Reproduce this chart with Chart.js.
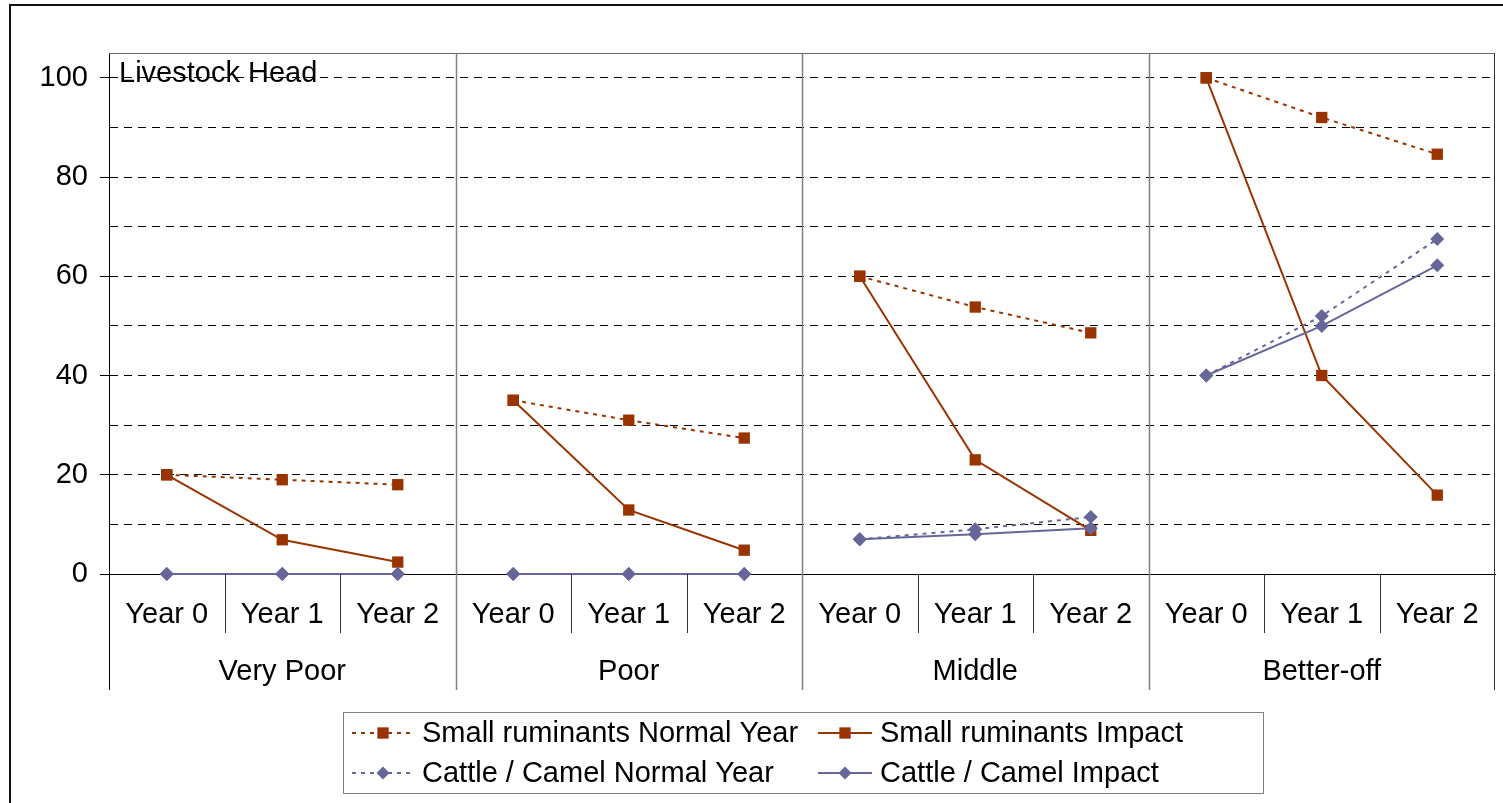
<!DOCTYPE html>
<html>
<head>
<meta charset="utf-8">
<title>Livestock Head</title>
<script src="https://cdn.jsdelivr.net/npm/chart.js@4"></script>
<style>
  html, body { margin: 0; padding: 0; background: #fff; }
  #wrap { width: 1503px; height: 803px; position: relative; }
</style>
</head>
<body>
<div id="wrap"><canvas id="chart" width="1503" height="803"></canvas></div>
<script>
// Wealth groups, each shown over three years
const groups = ['Very Poor', 'Poor', 'Middle', 'Better-off'];
const years = ['Year 0', 'Year 1', 'Year 2'];
const categories = groups.flatMap(() => years);

// Livestock head per group and year
const smallRuminantsNormal = [20, 19, 18, 35, 31, 27.4, 60, 53.8, 48.6, 100, 92, 84.6];
const smallRuminantsImpact = [20, 6.9, 2.4, 35, 12.9, 4.8, 60, 23, 8.8, 100, 40, 15.9];
const cattleCamelNormal = [0, 0, 0, 0, 0, 0, 7, 9, 11.5, 40, 52, 67.5];
const cattleCamelImpact = [0, 0, 0, 0, 0, 0, 7, 8, 9.2, 40, 50, 62.2];

// Axis range and labelled ticks
const yMin = 0;
const yMax = 105;
const yStep = 10;
const yLabelStep = 20;

const FONT = "'Liberation Sans', Arial, sans-serif";
const FS = 29;
const BROWN = '#993300';
const PURPLE = '#666699';

// no line between the last year of one group and the first year of the next
const groupBreak = { borderColor: ctx => (ctx.p0DataIndex % 3 === 2 ? 'rgba(0,0,0,0)' : undefined) };

function series(label, data, color, dotted, style, radius, order) {
  return {
    label, data, order,
    borderColor: color,
    backgroundColor: color,
    pointBackgroundColor: color,
    pointBorderColor: color,
    pointBorderWidth: 0,
    borderWidth: 2,
    borderDash: dotted ? [4, 5] : [],
    pointStyle: style,
    pointRadius: radius,
    pointHoverRadius: radius,
    tension: 0,
    clip: false,
    segment: groupBreak
  };
}

const datasets = [
  series('Small ruminants Normal Year', smallRuminantsNormal, BROWN, true, 'rect', 8, 3),
  series('Small ruminants Impact', smallRuminantsImpact, BROWN, false, 'rect', 8, 2),
  series('Cattle / Camel Normal Year', cattleCamelNormal, PURPLE, true, 'rectRot', 7, 1),
  series('Cattle / Camel Impact', cattleCamelImpact, PURPLE, false, 'rectRot', 7, 0)
];

function drawMarker(ctx, style, x, y, r, color) {
  ctx.save();
  ctx.fillStyle = color;
  ctx.beginPath();
  if (style === 'rect') {
    const s = Math.SQRT1_2 * r;
    ctx.rect(x - s, y - s, 2 * s, 2 * s);
  } else {
    ctx.moveTo(x, y - r);
    ctx.lineTo(x + r, y);
    ctx.lineTo(x, y + r);
    ctx.lineTo(x - r, y);
    ctx.closePath();
  }
  ctx.fill();
  ctx.restore();
}

function line(ctx, x1, y1, x2, y2, color, width, dash) {
  ctx.save();
  ctx.strokeStyle = color;
  ctx.lineWidth = width;
  ctx.setLineDash(dash || []);
  ctx.beginPath();
  ctx.moveTo(x1, y1);
  ctx.lineTo(x2, y2);
  ctx.stroke();
  ctx.restore();
}

// frame, category dividers, group labels, caption and legend
const decorations = {
  id: 'decorations',
  beforeDatasetsDraw(chart) {
    const { ctx, chartArea: a } = chart;
    const cw = (a.right - a.left) / categories.length;
    for (let k = 3; k < categories.length; k += 3) {
      const x = Math.round(a.left + k * cw) + 0.5;
      line(ctx, x, a.top, x, 690, '#808080', 1.5);
    }
  },
  afterDraw(chart) {
    const { ctx, chartArea: a } = chart;
    const xs = chart.scales.x;
    const cw = (a.right - a.left) / categories.length;

    // outer frame
    ctx.save();
    ctx.strokeStyle = '#111';
    ctx.lineWidth = 2;
    ctx.strokeRect(10, 5, 3000, 3000);
    ctx.restore();

    // plot frame
    line(ctx, a.left, a.top + 0.5, a.right, a.top + 0.5, '#666', 1);
    line(ctx, a.right - 0.5, a.top, a.right - 0.5, 690, '#333', 1);
    line(ctx, a.left + 0.5, a.bottom, a.left + 0.5, 690, '#000', 1);

    // year dividers below the axis
    for (let k = 1; k < categories.length; k++) {
      if (k % 3 === 0) continue;
      const x = Math.round(a.left + k * cw) + 0.5;
      line(ctx, x, a.bottom, x, 633, '#333', 1);
    }

    // group names
    ctx.save();
    ctx.font = FS + 'px ' + FONT;
    ctx.fillStyle = '#000';
    ctx.textAlign = 'center';
    ctx.textBaseline = 'middle';
    groups.forEach((g, i) => {
      const cx = (xs.getPixelForValue(i * 3) + xs.getPixelForValue(i * 3 + 2)) / 2;
      ctx.fillText(g, cx, 672);
    });
    ctx.textAlign = 'left';
    ctx.textBaseline = 'alphabetic';
    ctx.fillText('Livestock Head', a.left + 10, 82);
    ctx.restore();

    // legend
    ctx.save();
    ctx.fillStyle = '#fff';
    ctx.fillRect(343, 712, 920, 81);
    ctx.strokeStyle = '#808080';
    ctx.lineWidth = 1;
    ctx.strokeRect(343.5, 712.5, 920, 81);
    ctx.restore();
    const slots = [
      { x1: 352, x2: 414, tx: 422, y: 733 },
      { x1: 818, x2: 872, tx: 880, y: 733 },
      { x1: 352, x2: 414, tx: 422, y: 773 },
      { x1: 818, x2: 872, tx: 880, y: 773 }
    ];
    datasets.forEach((ds, i) => {
      const s = slots[i];
      line(ctx, s.x1, s.y, s.x2, s.y, ds.borderColor, ds.borderWidth, ds.borderDash);
      drawMarker(ctx, ds.pointStyle, (s.x1 + s.x2) / 2, s.y, ds.pointStyle === 'rect' ? 8 : 6.5, ds.borderColor);
      ctx.save();
      ctx.font = FS + 'px ' + FONT;
      ctx.fillStyle = '#000';
      ctx.textBaseline = 'middle';
      ctx.fillText(ds.label, s.tx, s.y + 1);
      ctx.restore();
    });
  }
};

Chart.defaults.font.family = FONT;
Chart.defaults.font.size = FS;
Chart.defaults.color = '#000';

new Chart(document.getElementById('chart'), {
  type: 'line',
  data: { labels: categories, datasets },
  options: {
    responsive: false,
    animation: false,
    devicePixelRatio: 1,
    events: [],
    layout: { padding: { left: 0, top: 53, right: -1, bottom: 0 } },
    plugins: { legend: { display: false }, tooltip: { enabled: false } },
    scales: {
      x: {
        type: 'category',
        offset: true,
        grid: { display: false, drawTicks: false },
        border: { display: true, color: '#000', width: 1 },
        ticks: { padding: 0, autoSkip: false, maxRotation: 0, font: { size: FS, lineHeight: '82px' } },
        afterFit(scale) {
          scale.height = 229;
          scale.paddingLeft = 0;
          scale.paddingRight = 0;
        }
      },
      y: {
        min: yMin,
        max: yMax,
        grid: {
          color: ctx => (ctx.tick && ctx.tick.value > 0 ? '#000' : 'rgba(0,0,0,0)'),
          lineWidth: 1,
          tickLength: 9,
          tickColor: ctx => (ctx.tick && ctx.tick.value % yLabelStep === 0 ? '#000' : 'rgba(0,0,0,0)'),
          tickBorderDash: []
        },
        border: { display: true, color: '#000', width: 1, dash: [8, 6] },
        ticks: {
          stepSize: yStep,
          includeBounds: false,
          padding: 12,
          font: { size: FS },
          callback: v => (v % yLabelStep === 0 ? v : '')
        },
        afterFit(scale) { scale.width = 109; }
      }
    }
  },
  plugins: [decorations]
});
</script>
</body>
</html>
